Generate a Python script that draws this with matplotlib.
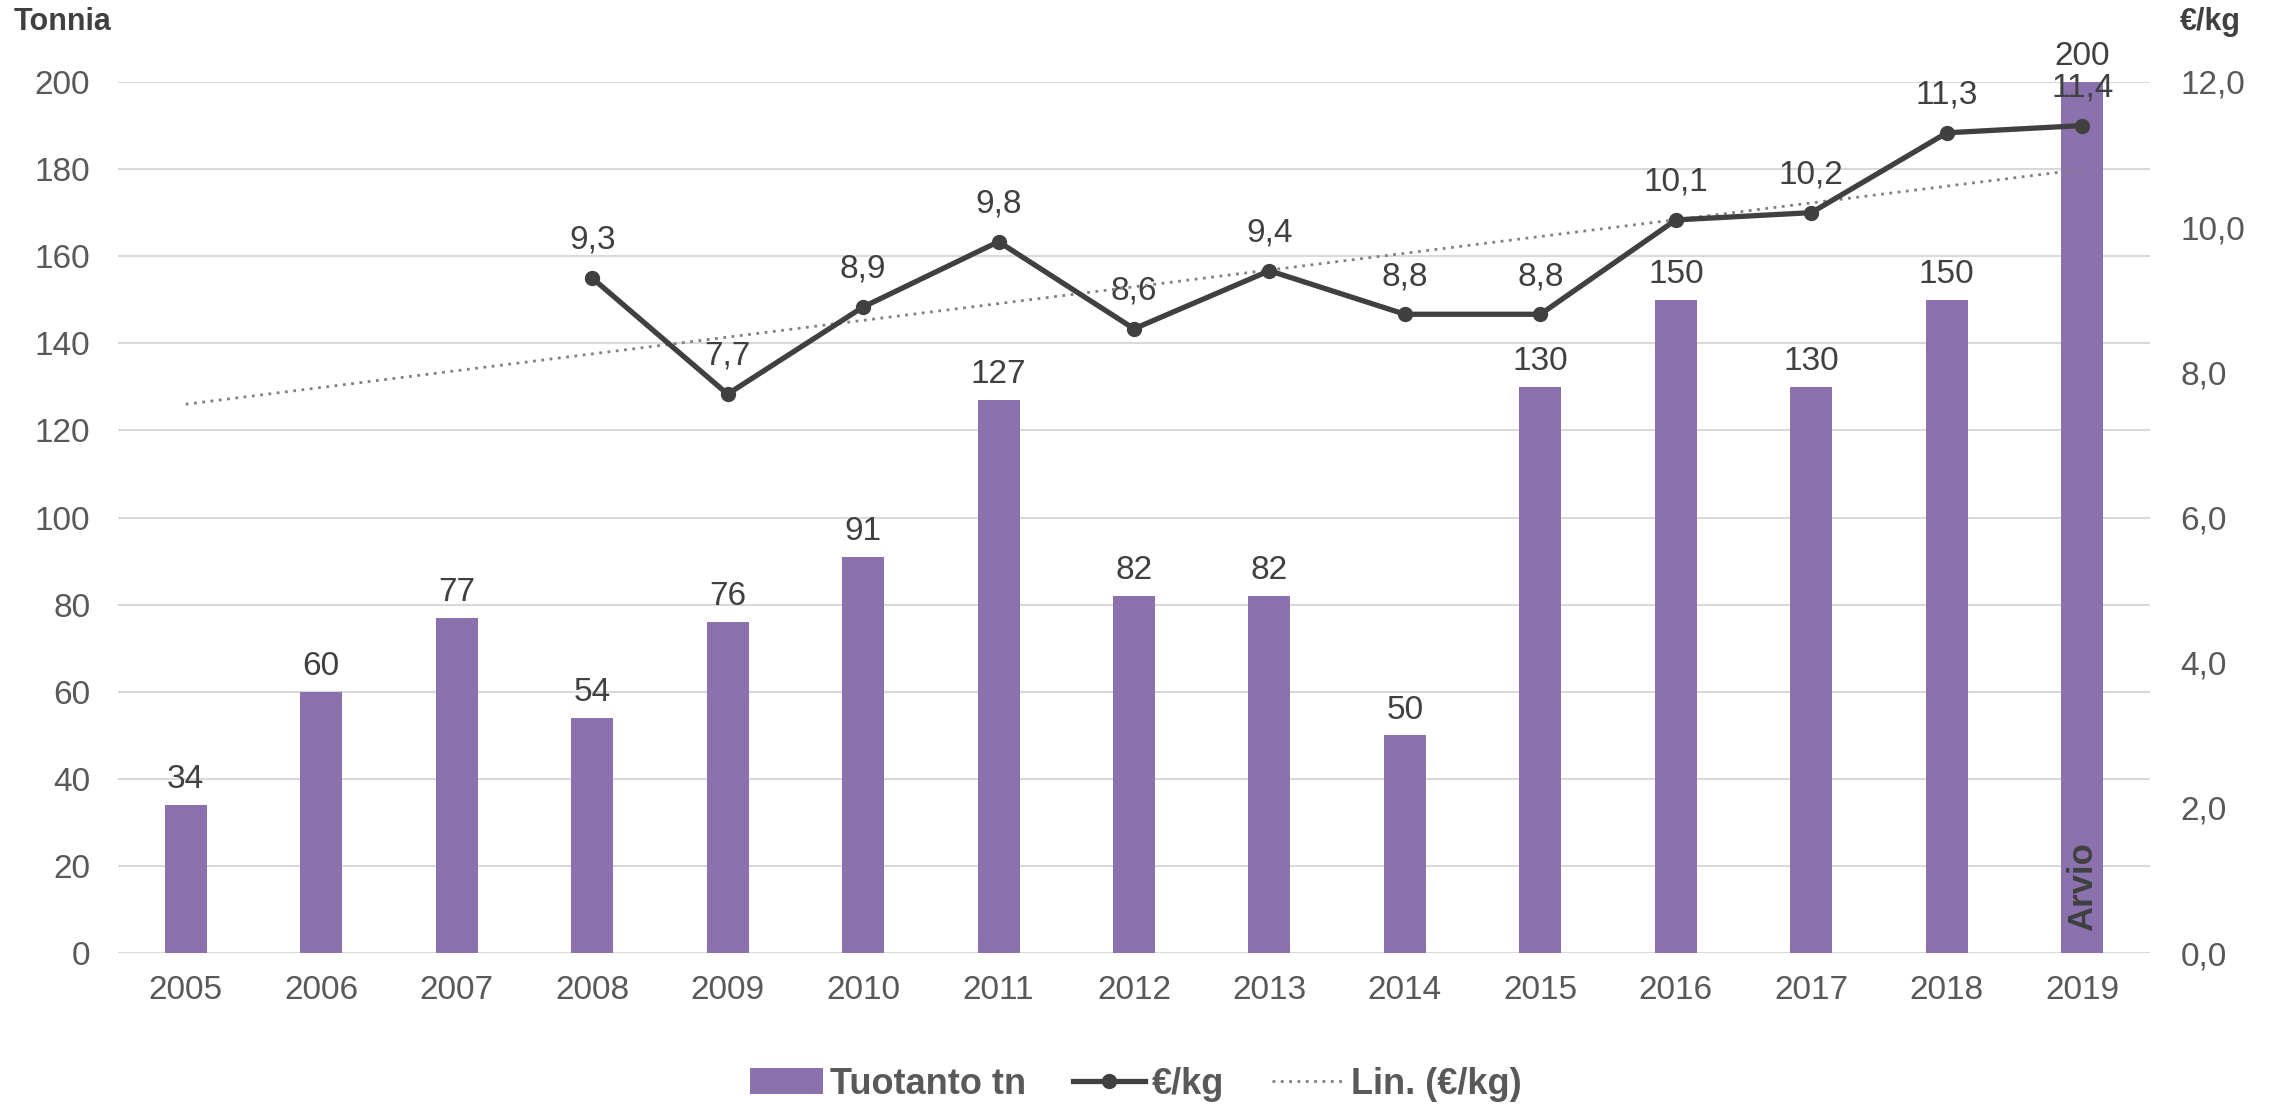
import numpy as np
import matplotlib.pyplot as plt

plt.rcParams['font.family'] = ['Liberation Sans', 'DejaVu Sans']
plt.rcParams['font.size'] = 24

years = [2005, 2006, 2007, 2008, 2009, 2010, 2011, 2012, 2013, 2014, 2015, 2016, 2017, 2018, 2019]
tuotanto = [34, 60, 77, 54, 76, 91, 127, 82, 82, 50, 130, 150, 130, 150, 200]
# price per kg, missing for 2005-2007
hinta = [None, None, None, 9.3, 7.7, 8.9, 9.8, 8.6, 9.4, 8.8, 8.8, 10.1, 10.2, 11.3, 11.4]

bar_col = '#8B72AE'
line_col = '#404040'
txt_col = '#595959'

fig = plt.figure(figsize=(22.72, 11.04), dpi=100)
ax = fig.add_axes([118 / 2272, 1 - 953 / 1104, (2150 - 118) / 2272, (953 - 82) / 1104])
ax2 = ax.twinx()

x = np.arange(len(years))
bars = ax.bar(x, tuotanto, width=0.31, color=bar_col, zorder=2, label='Tuotanto tn')
for xi, v in zip(x, tuotanto):
    ax.annotate(str(v), (xi, v), xytext=(0, 7), textcoords='offset points',
                ha='center', va='bottom', color=line_col, fontsize=24)

ax.set_ylim(0, 200)
ax.set_yticks(range(0, 201, 20))
ax.set_xlim(-0.5, len(years) - 0.5)
ax.set_xticks(x)
ax.set_xticklabels([str(y) for y in years])
ax.grid(axis='y', color='#D9D9D9', lw=1.5, zorder=0)
ax.set_axisbelow(True)
for a in (ax, ax2):
    for s in a.spines.values():
        s.set_visible(False)
    a.tick_params(length=0, colors=txt_col, labelsize=24)
ax.tick_params(axis='y', pad=20)
ax.tick_params(axis='x', pad=16)
ax2.tick_params(axis='y', pad=22)

px = np.array([xi for xi, h in zip(x, hinta) if h is not None])
py = np.array([h for h in hinta if h is not None])
ln, = ax2.plot(px, py, color=line_col, lw=3.8, marker='o', markersize=10, zorder=4, label='€/kg')
for xi, v in zip(px, py):
    ax2.annotate(f'{v:.1f}'.replace('.', ','), (xi, v), xytext=(0, 16), textcoords='offset points',
                 ha='center', va='bottom', color=line_col, fontsize=24)

# linear trendline, Excel style, across all categories
k, b = np.polyfit(px, py, 1)
tl, = ax2.plot(x, k * x + b, color='#808080', lw=2, ls=(0, (1, 2)), zorder=3, label='Lin. (€/kg)')

ax2.set_ylim(0, 12)
ax2.set_yticks(np.arange(0, 12.1, 2))
ax2.set_yticklabels([f'{v:.1f}'.replace('.', ',') for v in np.arange(0, 12.1, 2)])
ax2.set_zorder(ax.get_zorder() + 1)
ax2.patch.set_visible(False)

ax.text(x[-1], 5, 'Arvio', rotation=90, ha='center', va='bottom', fontsize=25,
        fontweight='bold', color=line_col, zorder=5)

fig.text(14 / 2272, 1 - 22 / 1104, 'Tonnia', fontsize=22, fontweight='bold', color=line_col,
         ha='left', va='center')
fig.text(2241 / 2272, 1 - 22 / 1104, '€/kg', fontsize=22, fontweight='bold', color=line_col,
         ha='right', va='center')

leg = fig.legend(handles=[bars, ln, tl], loc='center', bbox_to_anchor=(0.5, 1 - 1084 / 1104),
                 ncol=3, frameon=False, handlelength=2.0, columnspacing=1.3,
                 handletextpad=0.2, prop={'size': 26, 'weight': 'bold'})
for t in leg.get_texts():
    t.set_color(txt_col)

fig.savefig('out.png', dpi=100)
